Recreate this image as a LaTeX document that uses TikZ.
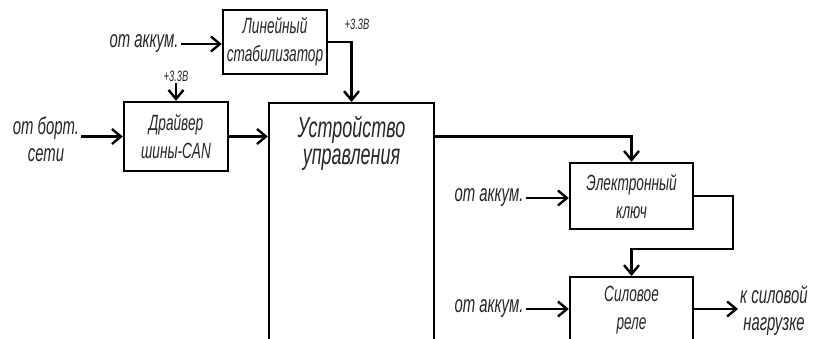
\documentclass[tikz,border=0pt]{standalone}
\usepackage{fontspec}
\setmainfont{Liberation Sans}[FakeStretch=0.62]
\usetikzlibrary{positioning, arrows.meta}

\begin{document}
\begin{tikzpicture}[x=1pt, y=-1pt, >={Straight Barb[length=9pt,width=15pt]},
    blk/.style={draw, line width=2.4pt, inner sep=0pt, align=center, text=black!85,
      font=\fontsize{22}{28}\selectfont\itshape},
    lbl/.style={inner sep=2pt, align=center, text=black!85, font=\fontsize{24}{27}\selectfont\itshape},
    vlbl/.style={inner sep=1pt, text=black!85, font=\fontsize{15}{16}\selectfont\itshape},
    wire/.style={line width=2.4pt}]
  \useasboundingbox (0,0) rectangle (817,339);
  \clip (0,0) rectangle (817,339);
  % blocks
  \node[blk, minimum width=104pt, minimum height=64pt] (stab) at (275,42) {Линейный\\стабилизатор};
  \node[blk, minimum width=104pt, minimum height=69pt] (drv) at (176,136.5) {Драйвер\\шины-CAN};
  \node[blk, minimum width=165pt, minimum height=260pt, anchor=north] (ctrl) at (351.5,102) {};
  \node[lbl, font=\fontsize{29}{27}\selectfont\itshape] (ctrltxt) at (351.5,143) {Устройство\\управления};
  \node[blk, minimum width=123pt, minimum height=66pt] (key) at (631.5,196) {Электронный\\ключ};
  \node[blk, minimum width=123pt, minimum height=100pt, anchor=north] (relay) at (631.5,276) {};
  \node[lbl, font=\fontsize{22}{28}\selectfont\itshape] (relaytxt) at (631.5,310) {Силовое\\реле};
  % inputs and labels
  \node[lbl] (src1) at (144,44) {от аккум.};
  \node[lbl] (src2) at (46,139) {от борт.\\сети};
  \node[vlbl] (v1) at (357,24) {+3.3В};
  \node[vlbl] (v2) at (176,76) {+3.3В};
  \node[lbl] (src3) at (489,198) {от аккум.};
  \node[lbl] (src4) at (489,309) {от аккум.};
  \node[lbl, anchor=west] (load) at (738,311) {к силовой\\нагрузке};
  \coordinate (kbend) at (733,249);
  % connectors
  \draw[wire, ->] (src1.east) -- (src1.east -| stab.west);
  \draw[wire, ->] (stab.east) -| (ctrl.north);
  \draw[wire, ->] (v2.south) -- (drv.north);
  \draw[wire, ->] (src2.east |- drv.west) -- (drv.west);
  \draw[wire, ->] (drv.east) -- (drv.east -| ctrl.west);
  \draw[wire, ->] (drv.east -| ctrl.east) -| (key.north);
  \draw[wire, ->] (src3.east) -- (src3.east -| key.west);
  \draw[wire, ->] (key.east) -| (kbend) -| (relay.north);
  \draw[wire, ->] (src4.east) -- (src4.east -| relay.west);
  \draw[wire, ->] (src4.east -| relay.east) -- (load.west |- src4.east);
\end{tikzpicture}
\end{document}
